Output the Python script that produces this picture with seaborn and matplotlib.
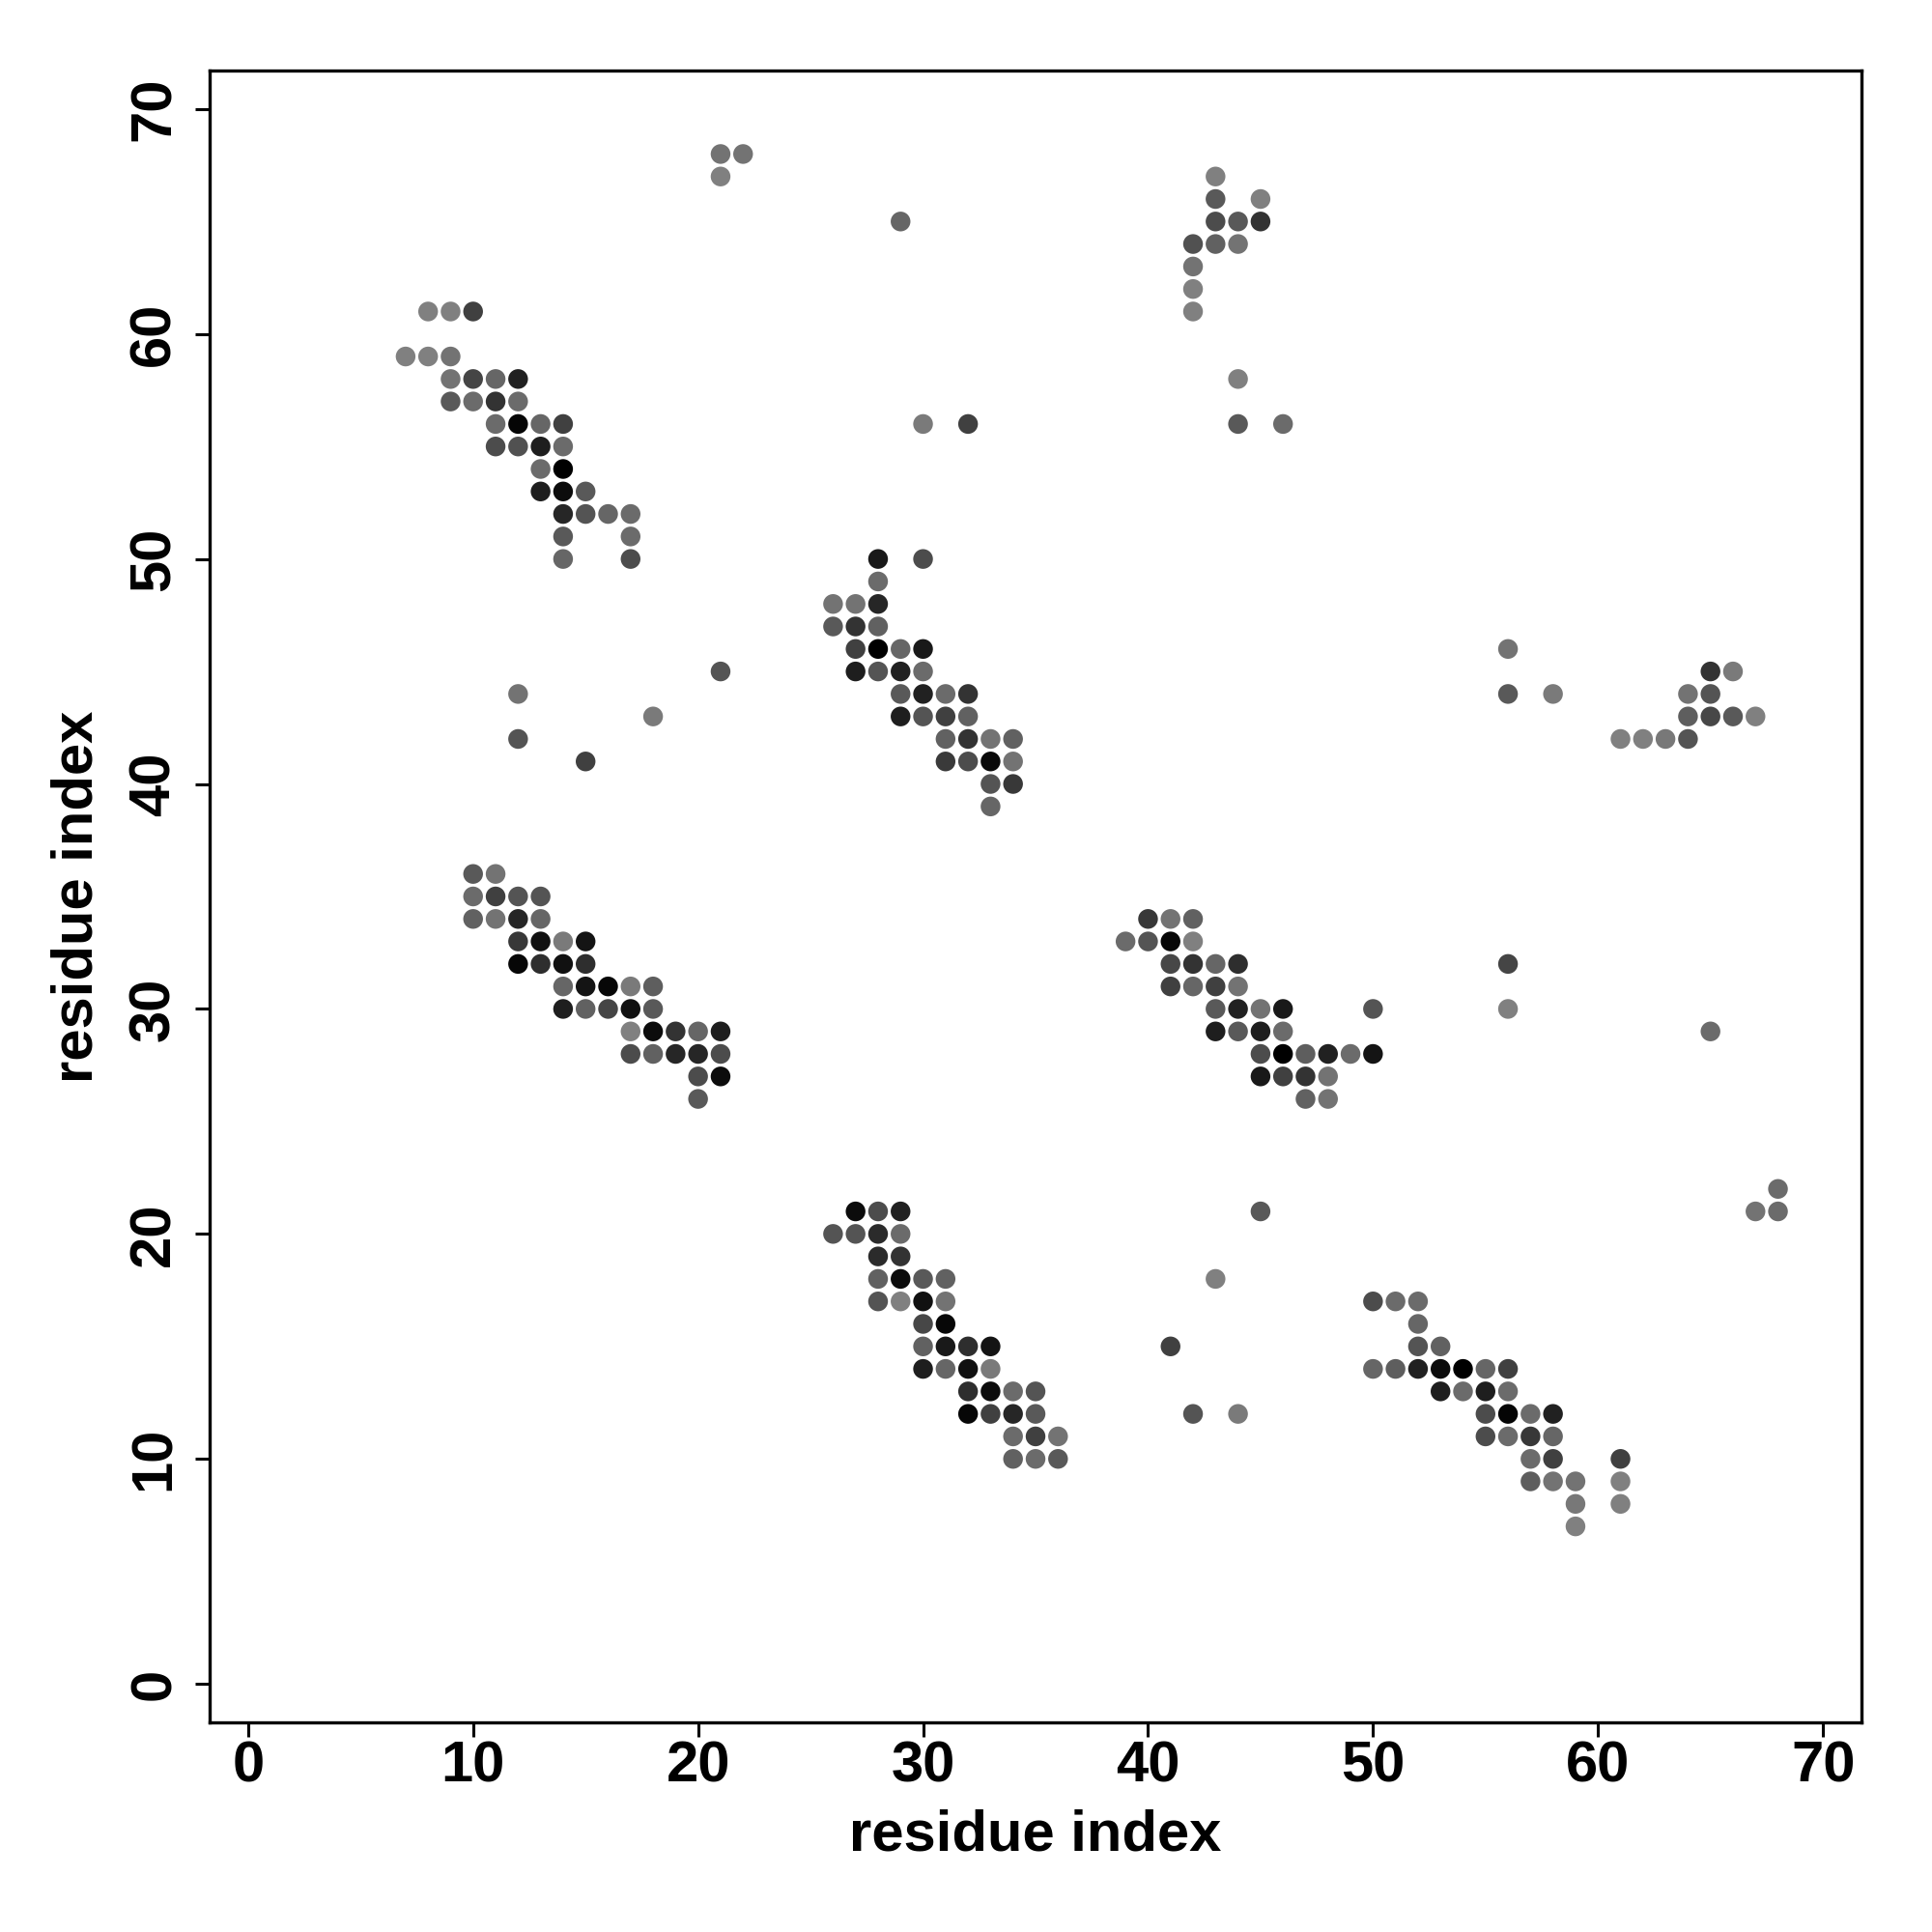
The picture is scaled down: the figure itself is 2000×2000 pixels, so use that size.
import pandas as pd
import seaborn as sns
import matplotlib.pyplot as plt

# contactos: (residuo i, residuo j, gris) ; gris 0 = negro, 0.5 = gris claro
bloque_a = [
    (21, 68, .45), (22, 68, .45), (21, 67, .50),
    (8, 61, .50), (9, 61, .50), (10, 61, .25),
    (7, 59, .50), (8, 59, .50), (9, 59, .45),
    (9, 58, .45), (10, 58, .27), (11, 58, .40), (12, 58, .13),
    (9, 57, .35), (10, 57, .42), (11, 57, .20), (12, 57, .42),
    (11, 56, .42), (12, 56, .02), (13, 56, .40), (14, 56, .25),
    (11, 55, .30), (12, 55, .32), (13, 55, .12), (14, 55, .42),
    (13, 54, .42), (14, 54, .00),
    (13, 53, .12), (14, 53, .05), (15, 53, .35),
    (14, 52, .15), (15, 52, .33), (16, 52, .40), (17, 52, .42),
    (14, 51, .35), (17, 51, .42),
    (14, 50, .40), (17, 50, .30),
]
bloque_b = [
    (28, 50, .10), (30, 50, .30), (28, 49, .42),
    (26, 48, .45), (27, 48, .45), (28, 48, .15),
    (26, 47, .35), (27, 47, .20), (28, 47, .38),
    (27, 46, .25), (28, 46, .00), (29, 46, .40), (30, 46, .10),
    (27, 45, .12), (28, 45, .33), (29, 45, .13), (30, 45, .42),
    (29, 44, .35), (30, 44, .13), (31, 44, .42), (32, 44, .20),
    (29, 43, .12), (30, 43, .33), (31, 43, .25), (32, 43, .38),
    (31, 42, .38), (32, 42, .20), (33, 42, .45), (34, 42, .38),
    (31, 41, .23), (32, 41, .30), (33, 41, .04), (34, 41, .45),
    (33, 40, .33), (34, 40, .22), (33, 39, .40),
]
bloque_c = [
    (10, 36, .35), (11, 36, .45),
    (10, 35, .42), (11, 35, .25), (12, 35, .33), (13, 35, .33),
    (10, 34, .38), (11, 34, .45), (12, 34, .15), (13, 34, .40),
    (12, 33, .22), (13, 33, .07), (14, 33, .48), (15, 33, .08),
    (12, 32, .03), (13, 32, .18), (14, 32, .07), (15, 32, .18),
    (14, 31, .40), (15, 31, .08), (16, 31, .03), (17, 31, .48), (18, 31, .37),
    (14, 30, .12), (15, 30, .38), (16, 30, .27), (17, 30, .07), (18, 30, .35),
    (17, 29, .50), (18, 29, .05), (19, 29, .20), (20, 29, .40), (21, 29, .12),
    (17, 28, .30), (18, 28, .38), (19, 28, .15), (20, 28, .15), (21, 28, .30),
    (20, 27, .30), (21, 27, .05), (20, 26, .35),
]
bloque_d = [
    (27, 21, .05), (28, 21, .30), (29, 21, .13),
    (26, 20, .33), (27, 20, .33), (28, 20, .17), (29, 20, .42),
    (28, 19, .17), (29, 19, .20),
    (28, 18, .38), (29, 18, .05), (30, 18, .35), (31, 18, .38),
    (28, 17, .33), (29, 17, .50), (30, 17, .07), (31, 17, .45),
    (30, 16, .28), (31, 16, .03),
    (30, 15, .38), (31, 15, .10), (32, 15, .18), (33, 15, .08),
    (30, 14, .12), (31, 14, .40), (32, 14, .07), (33, 14, .48),
    (32, 13, .18), (33, 13, .05), (34, 13, .42), (35, 13, .33),
    (32, 12, .03), (33, 12, .25), (34, 12, .15), (35, 12, .35),
    (34, 11, .42), (35, 11, .25), (36, 11, .45),
    (34, 10, .38), (35, 10, .42), (36, 10, .35),
]
bloque_e = [
    (50, 17, .30), (51, 17, .42), (52, 17, .42), (52, 16, .40),
    (52, 15, .33), (53, 15, .38),
    (50, 14, .40), (51, 14, .37), (52, 14, .13), (53, 14, .05),
    (54, 14, .00), (55, 14, .40), (56, 14, .25),
    (53, 13, .12), (54, 13, .42), (55, 13, .12), (56, 13, .42),
    (55, 12, .30), (56, 12, .02), (57, 12, .42), (58, 12, .13),
    (55, 11, .30), (56, 11, .42), (57, 11, .22), (58, 11, .40),
    (57, 10, .42), (58, 10, .25), (61, 10, .25),
    (57, 9, .37), (58, 9, .45), (59, 9, .45), (61, 9, .50),
    (59, 8, .47), (61, 8, .50), (59, 7, .50),
]
bloque_f = [
    (40, 34, .22), (41, 34, .45), (42, 34, .38),
    (39, 33, .42), (40, 33, .33), (41, 33, .03), (42, 33, .50),
    (41, 32, .28), (42, 32, .20), (43, 32, .40), (44, 32, .18),
    (41, 31, .25), (42, 31, .40), (43, 31, .25), (44, 31, .45),
    (43, 30, .35), (44, 30, .13), (45, 30, .45), (46, 30, .10), (50, 30, .33),
    (43, 29, .12), (44, 29, .35), (45, 29, .12), (46, 29, .42),
    (45, 28, .30), (46, 28, .00), (47, 28, .37), (48, 28, .13), (49, 28, .42), (50, 28, .08),
    (45, 27, .10), (46, 27, .25), (47, 27, .20), (48, 27, .45),
    (47, 26, .38), (48, 26, .45),
]
bloque_g = [
    (43, 67, .50), (43, 66, .35), (45, 66, .50),
    (43, 65, .30), (44, 65, .35), (45, 65, .20),
    (42, 64, .32), (43, 64, .38), (44, 64, .45),
    (42, 63, .45), (42, 62, .50), (42, 61, .50),
    (44, 58, .50), (44, 56, .35), (46, 56, .42),
]
bloque_h = [
    (56, 46, .45), (65, 45, .20), (66, 45, .48),
    (56, 44, .35), (58, 44, .48), (64, 44, .45), (65, 44, .33),
    (64, 43, .37), (65, 43, .28), (66, 43, .35), (67, 43, .50),
    (61, 42, .50), (62, 42, .50), (63, 42, .47), (64, 42, .33),
]
sueltos = [
    (12, 44, .45), (12, 42, .33), (15, 41, .25), (18, 43, .48), (21, 45, .33),
    (29, 65, .40), (30, 56, .48), (32, 56, .25),
    (45, 21, .35), (43, 18, .50), (41, 15, .25), (42, 12, .33), (44, 12, .48),
    (56, 32, .27), (56, 30, .50), (65, 29, .42),
    (68, 22, .42), (67, 21, .45), (68, 21, .42),
]

bloques = [bloque_a, bloque_b, bloque_c, bloque_d, bloque_e, bloque_f, bloque_g, bloque_h, sueltos]
df = pd.DataFrame([p for b in bloques for p in b], columns=["i", "j", "gris"])

sns.set_style("white")
plt.rcParams['font.family'] = ['Liberation Sans', 'DejaVu Sans']
plt.rcParams['text.color'] = "black"
plt.rcParams['axes.labelcolor'] = "black"
plt.rcParams['xtick.color'] = "black"
plt.rcParams['ytick.color'] = "black"

fig = plt.figure(figsize=(10, 10), dpi=200)
ax = fig.add_axes([0.1084, 0.1084, 0.8552, 0.8552])

sns.scatterplot(data=df, x="i", y="j", hue="gris", palette="gray", hue_norm=(0, 1),
                s=54, linewidth=0, legend=False, ax=ax)

ax.set_xlim(-1.72, 71.72)
ax.set_ylim(-1.72, 71.72)
ticks = [0, 10, 20, 30, 40, 50, 60, 70]
ax.set_xticks(ticks)
ax.set_yticks(ticks)
ax.set_xticklabels([str(t) for t in ticks], fontsize=21.5, fontweight="bold")
ax.set_yticklabels([str(t) for t in ticks], fontsize=21.5, fontweight="bold", rotation=90, va="center")
ax.tick_params(axis="both", direction="out", length=5.5, width=1.1, color="black", bottom=True, left=True)
ax.tick_params(axis="x", pad=1)
ax.tick_params(axis="y", pad=5)
for sp in ax.spines.values():
    sp.set_color("black")
    sp.set_linewidth(1.2)

ax.set_xlabel("residue index", fontsize=21.5, fontweight="bold", labelpad=6)
ax.set_ylabel("residue index", fontsize=21.5, fontweight="bold", labelpad=9)

plt.savefig("out.png", dpi=200)
plt.close()
